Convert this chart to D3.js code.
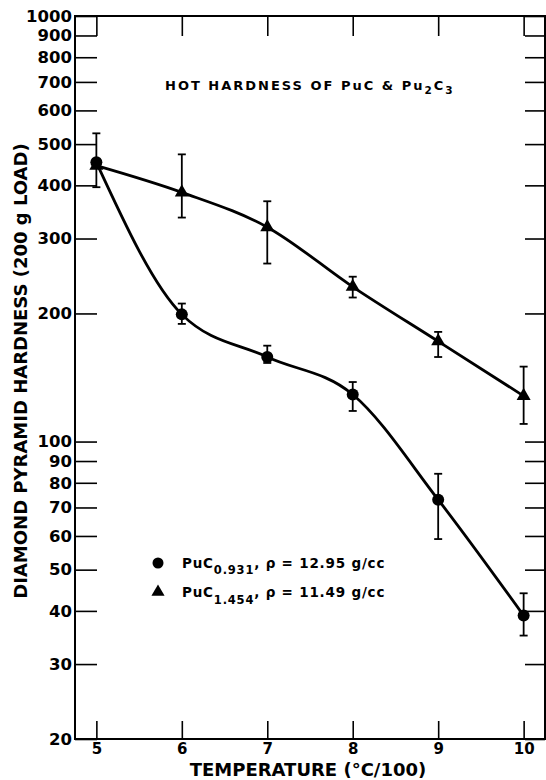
<!DOCTYPE html>
<html>
<head>
<meta charset="utf-8">
<script src="https://cdn.jsdelivr.net/npm/d3@7"></script>
<style>
  html, body { margin: 0; padding: 0; background: #fff; }
  svg { display: block; }
  text { font-family: "DejaVu Sans", sans-serif; font-weight: bold; fill: #000; }
</style>
</head>
<body>
<svg id="chart" width="546" height="780"></svg>
<script>
// temperature (°C/100)
const temps = [5, 6, 7, 8, 9, 10];

// PuC0.931 (circles)
const pucA = [453, 199, 158, 129, 73, 39];
const pucALo = [396, 189, 153, 118, 59, 35];
const pucAHi = [530, 211, 168, 138, 84, 44];

// PuC1.454 (triangles)
const pucB = [445, 385, 319, 231, 172, 128];
const pucBLo = [null, 336, 262, 218, 158, 110];
const pucBHi = [null, 473, 367, 244, 181, 150];

const yTicks = [20, 30, 40, 50, 60, 70, 80, 90, 100, 200, 300, 400, 500, 600, 700, 800, 900, 1000];

const svg = d3.select("#chart");
const plotL = 75, plotR = 545, plotT = 16, plotB = 739;

const x = d3.scaleLinear().domain([4.75, 10.25]).range([plotL, plotR]);
const y = d3.scaleLog().domain([20, 1000]).range([plotB, plotT]);

// axes (ticks point inward)
const gl = svg.append("g").attr("transform", `translate(${plotL},0)`)
  .call(d3.axisLeft(y).tickValues(yTicks).tickFormat(d3.format("d"))
    .tickSize(-22).tickSizeOuter(0).tickPadding(3));
const gr = svg.append("g").attr("transform", `translate(${plotR},0)`)
  .call(d3.axisRight(y).tickValues(yTicks).tickFormat("")
    .tickSize(-20).tickSizeOuter(0));
const gb = svg.append("g").attr("transform", `translate(0,${plotB})`)
  .call(d3.axisBottom(x).tickValues(temps).tickFormat(d3.format("d"))
    .tickSize(-18).tickSizeOuter(0).tickPadding(4));
const gt = svg.append("g").attr("transform", `translate(0,${plotT})`)
  .call(d3.axisTop(x).tickValues(temps).tickFormat("")
    .tickSize(-20).tickSizeOuter(0));

[gl, gr, gb, gt].forEach(g => {
  g.select(".domain").remove();
  g.selectAll(".tick line").attr("stroke", "#000").attr("stroke-width", 1.6);
});
gl.selectAll(".tick text").attr("font-size", 16.5).style("font-family", "DejaVu Sans").style("font-weight", "bold");
gb.selectAll(".tick text").attr("font-size", 15).style("font-family", "DejaVu Sans").style("font-weight", "bold");

// frame
svg.append("rect")
  .attr("x", plotL).attr("y", plotT)
  .attr("width", plotR - plotL).attr("height", plotB - plotT)
  .attr("fill", "none").attr("stroke", "#000").attr("stroke-width", 2);

// axis titles
svg.append("text")
  .attr("x", 308).attr("y", 776)
  .attr("text-anchor", "middle").attr("font-size", 18)
  .text("TEMPERATURE (°C/100)");

svg.append("text")
  .attr("transform", "translate(27,371) rotate(-90)")
  .attr("text-anchor", "middle").attr("font-size", 18)
  .text("DIAMOND PYRAMID HARDNESS (200 g LOAD)");

// chart title
const title = svg.append("text").attr("x", 165).attr("y", 90)
  .attr("font-size", 13).attr("letter-spacing", 2);
title.append("tspan").text("HOT HARDNESS OF PuC & Pu");
title.append("tspan").attr("dy", 4).attr("font-size", 10.5).text("2");
title.append("tspan").attr("dy", -4).text("C");
title.append("tspan").attr("dy", 4).attr("font-size", 10.5).text("3");

// series
const series = [
  { name: "A", vals: pucA, lo: pucALo, hi: pucAHi, shape: "circle" },
  { name: "B", vals: pucB, lo: pucBLo, hi: pucBHi, shape: "triangle" }
];

const line = d3.line()
  .x(d => x(d.t))
  .y(d => y(d.v))
  .curve(d3.curveMonotoneX);

const tri = d3.symbol().type(d3.symbolTriangle).size(85);

series.forEach(s => {
  const pts = temps.map((t, i) => ({ t, v: s.vals[i], lo: s.lo[i], hi: s.hi[i] }));
  const g = svg.append("g");

  g.append("path")
    .attr("d", line(pts))
    .attr("fill", "none").attr("stroke", "#000").attr("stroke-width", 2.8);

  // error bars
  const eb = g.selectAll(".eb").data(pts.filter(d => d.lo != null)).enter().append("g");
  eb.append("line")
    .attr("x1", d => x(d.t)).attr("x2", d => x(d.t))
    .attr("y1", d => y(d.lo)).attr("y2", d => y(d.hi))
    .attr("stroke", "#000").attr("stroke-width", 1.8);
  ["lo", "hi"].forEach(k => {
    eb.append("line")
      .attr("x1", d => x(d.t) - 4).attr("x2", d => x(d.t) + 4)
      .attr("y1", d => y(d[k])).attr("y2", d => y(d[k]))
      .attr("stroke", "#000").attr("stroke-width", 1.8);
  });

  if (s.shape === "circle") {
    g.selectAll(".m").data(pts).enter().append("circle")
      .attr("cx", d => x(d.t)).attr("cy", d => y(d.v)).attr("r", 6)
      .attr("fill", "#000");
  } else {
    g.selectAll(".m").data(pts).enter().append("path")
      .attr("d", tri)
      .attr("transform", d => `translate(${x(d.t)},${y(d.v)})`)
      .attr("fill", "#000");
  }
});

// legend
const leg = svg.append("g");
leg.append("circle").attr("cx", 158).attr("cy", 563).attr("r", 5.5).attr("fill", "#000");
leg.append("path").attr("d", d3.symbol().type(d3.symbolTriangle).size(75)())
  .attr("transform", "translate(158,592)").attr("fill", "#000");

const l1 = leg.append("text").attr("x", 182).attr("y", 568)
  .attr("font-size", 13.5).attr("letter-spacing", 0.8);
l1.append("tspan").text("PuC");
l1.append("tspan").attr("dy", 6).attr("font-size", 11.5).text("0.931");
l1.append("tspan").attr("dy", -6).text(",  ρ = 12.95 g/cc");

const l2 = leg.append("text").attr("x", 182).attr("y", 597)
  .attr("font-size", 13.5).attr("letter-spacing", 0.8);
l2.append("tspan").text("PuC");
l2.append("tspan").attr("dy", 7).attr("font-size", 11.5).text("1.454");
l2.append("tspan").attr("dy", -7).text(",  ρ = 11.49 g/cc");
</script>
</body>
</html>
